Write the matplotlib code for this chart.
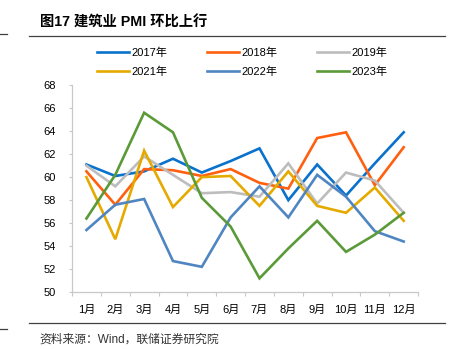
import matplotlib
matplotlib.use("Agg")
import matplotlib.pyplot as plt
from matplotlib.lines import Line2D

plt.rcParams['font.family'] = ['Liberation Sans', 'Noto Sans CJK SC', 'DejaVu Sans']

months = ["1月", "2月", "3月", "4月", "5月", "6月", "7月", "8月", "9月", "10月", "11月", "12月"]
y2017 = [61.1, 60.1, 60.5, 61.6, 60.4, 61.4, 62.5, 58.0, 61.1, 58.4, 61.2, 63.9]
y2018 = [60.5, 57.6, 60.7, 60.6, 60.1, 60.7, 59.5, 59.0, 63.4, 63.9, 59.3, 62.6]
y2019 = [61.0, 59.2, 61.8, 60.2, 58.6, 58.7, 58.3, 61.2, 57.7, 60.4, 59.7, 56.9]
y2021 = [60.0, 54.6, 62.3, 57.4, 60.0, 60.1, 57.5, 60.5, 57.5, 56.9, 59.1, 56.2]
y2022 = [55.4, 57.6, 58.1, 52.7, 52.2, 56.5, 59.2, 56.5, 60.2, 58.3, 55.3, 54.4]
y2023 = [56.4, 60.2, 65.6, 63.9, 58.2, 55.7, 51.2, 53.8, 56.2, 53.5, 55.0, 56.9]

series = [
    ("2017年", y2017, "#0a72cc"),
    ("2018年", y2018, "#ff6010"),
    ("2019年", y2019, "#bdbdbd"),
    ("2021年", y2021, "#e5aa00"),
    ("2022年", y2022, "#4f86c2"),
    ("2023年", y2023, "#5b9a38"),
]

fig = plt.figure(figsize=(4.53, 3.49), dpi=100)
ax = fig.add_axes([0.159, 0.163, 0.764, 0.593])

x = list(range(len(months)))
for label, vals, color in series:
    ax.plot(x, vals, color=color, lw=1.9, label=label, solid_joinstyle='miter')

ax.set_xlim(-0.5, len(months) - 0.5)
ax.set_ylim(50, 68)
ax.set_yticks(range(50, 69, 2))
ax.set_xticks(x)
ax.set_xticklabels(months)
ax.set_xticks([i - 0.5 for i in range(len(months) + 1)], minor=True)
ax.tick_params(axis='x', which='major', length=0, labelsize=8, pad=9, colors='#000000')
ax.tick_params(axis='x', which='minor', length=3, color='#c8c8c8', width=0.8)
ax.tick_params(axis='y', length=2.5, color='#c8c8c8', width=0.8, labelsize=8, pad=9)

for side in ('top', 'right'):
    ax.spines[side].set_visible(False)
for side in ('left', 'bottom'):
    ax.spines[side].set_color('#c8c8c8')
    ax.spines[side].set_linewidth(0.9)

# legend in two rows of three, filled row by row
handles, labels = ax.get_legend_handles_labels()
order = [0, 3, 1, 4, 2, 5]
fig.legend([handles[i] for i in order], [labels[i] for i in order], ncol=3,
           loc='upper left', bbox_to_anchor=(0.192, 0.893),
           frameon=False, fontsize=8, handlelength=2.9, handletextpad=0.2,
           columnspacing=3.55, labelspacing=0.8)

# title and rules
fig.text(0.088, 0.935, "图17 建筑业 PMI 环比上行", fontsize=10.3, fontweight='bold',
         ha='left', va='center')
fig.add_artist(Line2D([0.064, 0.983], [0.897, 0.897], color='#404040', lw=0.9))
fig.add_artist(Line2D([0.0, 0.015], [0.903, 0.903], color='#404040', lw=0.9))
fig.add_artist(Line2D([0.064, 0.983], [0.074, 0.074], color='#404040', lw=0.9))
fig.add_artist(Line2D([0.0, 0.015], [0.057, 0.057], color='#404040', lw=0.9))

fig.text(0.088, 0.026, "资料来源：Wind，联储证券研究院", fontsize=8.5, color='#333333',
         ha='left', va='center')

fig.savefig("out.png", dpi=100)
